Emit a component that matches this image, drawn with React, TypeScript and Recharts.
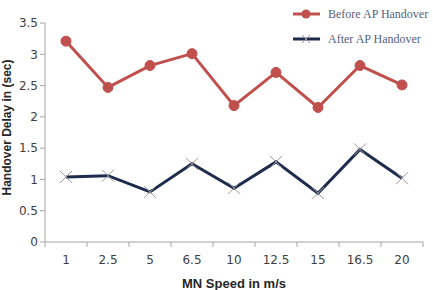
import { LineChart, Line, XAxis, YAxis } from "recharts";

const speeds = ["1", "2.5", "5", "6.5", "10", "12.5", "15", "16.5", "20"];
const beforeHandover = [3.21, 2.47, 2.82, 3.01, 2.18, 2.71, 2.15, 2.82, 2.51];
const afterHandover = [1.04, 1.06, 0.8, 1.25, 0.86, 1.28, 0.78, 1.48, 1.02];
const yTicks = [0, 0.5, 1, 1.5, 2, 2.5, 3, 3.5];

const RED = "#c0504d";
const NAVY = "#1f2b4d";
const AXIS = "#a6a6a6";
const FONT = "'DejaVu Sans', Verdana, sans-serif";
const TITLE_FONT = "'Liberation Sans', Arial, sans-serif";
const SERIF = "'Liberation Serif', 'Times New Roman', serif";

const data = speeds.map((s, i) => ({
    speed: s,
    before: beforeHandover[i],
    after: afterHandover[i],
}));

const BAND = 42;

// category label with tick marks on the band edges
const SpeedTick = (props: any) => {
    const { x, y, payload, index } = props;
    return (
        <g>
            <line x1={x - BAND / 2} y1={y - 8} x2={x - BAND / 2} y2={y - 3} stroke={AXIS} />
            {index === speeds.length - 1 && (
                <line x1={x + BAND / 2} y1={y - 8} x2={x + BAND / 2} y2={y - 3} stroke={AXIS} />
            )}
            <text x={x} y={y + 14} textAnchor="middle" fontSize={12} fill="#404040" fontFamily={FONT}>
                {payload.value}
            </text>
        </g>
    );
};

const YTitle = (props: any) => {
    const { viewBox } = props;
    const cy = viewBox.y + viewBox.height / 2 - 5;
    return (
        <text
            x={7}
            y={cy}
            transform={`rotate(-90, 7, ${cy})`}
            textAnchor="middle"
            dominantBaseline="central"
            fontSize={12}
            fontWeight="bold"
            fill="#262626"
            fontFamily={TITLE_FONT}
        >
            Handover Delay in (sec)
        </text>
    );
};

const CrossDot = (props: any) => {
    const { cx, cy } = props;
    if (cx == null || cy == null) return null;
    const s = 6;
    return (
        <g>
            <line x1={cx - s} y1={cy - s} x2={cx + s} y2={cy + s} stroke="#9a9a9a" strokeWidth={1} />
            <line x1={cx - s} y1={cy + s} x2={cx + s} y2={cy - s} stroke="#9a9a9a" strokeWidth={1} />
        </g>
    );
};

const LegendBox = () => (
    <svg width={150} height={50} style={{ position: "absolute", left: 290, top: 0 }}>
        <line x1={3} y1={14} x2={30} y2={14} stroke={RED} strokeWidth={3} />
        <circle cx={16} cy={14} r={4.5} fill={RED} />
        <text x={38} y={18} fontSize={12} fill="#56627e" fontFamily={SERIF}>
            Before AP Handover
        </text>
        <line x1={3} y1={39} x2={30} y2={39} stroke={NAVY} strokeWidth={3} />
        <line x1={12} y1={35} x2={20} y2={43} stroke="#9a9a9a" />
        <line x1={12} y1={43} x2={20} y2={35} stroke="#9a9a9a" />
        <text x={38} y={43} fontSize={12} fill="#56627e" fontFamily={SERIF}>
            After AP Handover
        </text>
    </svg>
);

const App = () => {
    return (
        <div style={{ position: "absolute", left: 0, top: 0, width: 433, height: 290, background: "#fff" }}>
            <LineChart
                width={433}
                height={290}
                data={data}
                margin={{ top: 23, right: 10, left: 0, bottom: 0 }}
            >
                <XAxis
                    dataKey="speed"
                    height={48}
                    stroke={AXIS}
                    tickLine={false}
                    padding={{ left: BAND / 2, right: BAND / 2 }}
                    tick={<SpeedTick />}
                    label={{
                        value: "MN Speed in m/s",
                        position: "insideBottom",
                        offset: 2,
                        fill: "#262626",
                        fontSize: 13,
                        fontWeight: "bold",
                        fontFamily: TITLE_FONT,
                    }}
                />
                <YAxis
                    width={45}
                    domain={[0, 3.5]}
                    ticks={yTicks}
                    stroke={AXIS}
                    tickSize={5}
                    tick={{ fill: "#404040", fontSize: 12, fontFamily: FONT }}
                    label={<YTitle />}
                />
                <Line
                    type="linear"
                    dataKey="before"
                    stroke={RED}
                    strokeWidth={3}
                    dot={{ r: 5, fill: RED, stroke: RED, strokeWidth: 1 }}
                    isAnimationActive={false}
                />
                <Line
                    type="linear"
                    dataKey="after"
                    stroke={NAVY}
                    strokeWidth={3}
                    dot={<CrossDot />}
                    isAnimationActive={false}
                />
            </LineChart>
            <LegendBox />
        </div>
    );
};

export default App;
